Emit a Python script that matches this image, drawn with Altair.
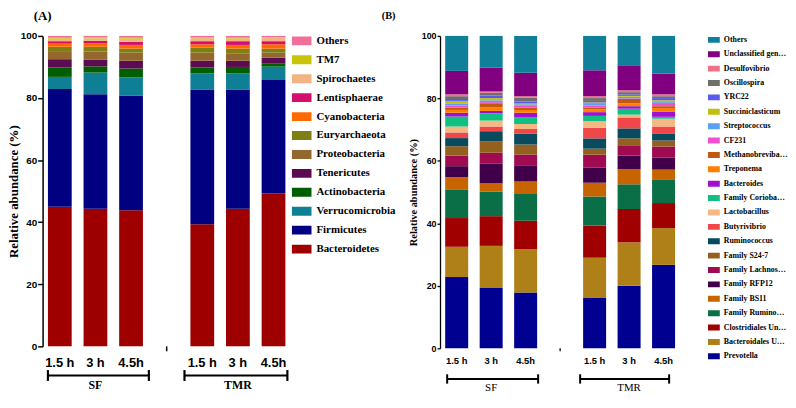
import altair as alt
import pandas as pd

# ---------------- categories (trailing spaces keep the two groups' slots distinct) ----------------
slots = ["1.5 h", "3 h", "4.5h", " ", "1.5 h ", "3 h ", "4.5h "]
samples = [s for s in slots if s != " "]
gap_slot = [" "]
y_ticks = [0, 20, 40, 60, 80, 100]

groups = ["SF", "TMR"]
group_first = ["1.5 h", "1.5 h "]
group_mid = ["3 h", "3 h "]
group_last = ["4.5h", "4.5h "]

# ---------------- panel A : phyla (bottom -> top) ----------------
phyla = ["Bacteroidetes", "Firmicutes", "Verrucomicrobia", "Actinobacteria", "Tenericutes",
         "Proteobacteria", "Euryarchaeota", "Cyanobacteria", "Lentisphaerae", "Spirochaetes",
         "TM7", "Others"]
phyla_colors = ["#9E0000", "#000080", "#0E7F94", "#005E00", "#5C0A52",
                "#94672E", "#7F7F14", "#FF6A00", "#D4106C", "#F2B482",
                "#C8C40A", "#F0709A"]
a_sf_15 = [45.0, 37.9, 3.9, 3.0, 2.7, 2.6, 1.4, 1.0, 0.8, 0.8, 0.3, 0.6]
a_sf_3 = [44.3, 36.9, 7.0, 2.0, 2.2, 2.6, 1.5, 1.1, 0.8, 0.8, 0.3, 0.5]
a_sf_45 = [43.8, 37.0, 5.8, 2.9, 2.5, 2.6, 1.3, 1.2, 1.0, 1.0, 0.3, 0.6]
a_tmr_15 = [39.3, 43.3, 5.3, 1.9, 2.2, 2.6, 1.6, 1.1, 1.0, 1.0, 0.2, 0.5]
a_tmr_3 = [44.3, 38.3, 5.3, 2.1, 2.0, 2.4, 1.5, 1.2, 1.2, 0.9, 0.2, 0.6]
a_tmr_45 = [49.2, 36.6, 4.3, 1.1, 1.8, 1.6, 1.3, 1.4, 1.0, 1.1, 0.2, 0.4]

# ---------------- panel B : genera (bottom -> top) ----------------
genera = ["Prevotella", "Bacteroidales Unclassified", "Clostridiales Unclassified",
          "Family Ruminococcaceae", "Family BS11", "Family RFP12", "Family Lachnospiraceae",
          "Family S24-7", "Ruminococcus", "Butyrivibrio", "Lactobacillus",
          "Family Coriobacteriaceae", "Bacteroides", "Treponema", "Methanobrevibacter",
          "CF231", "Streptococcus", "Succiniclasticum", "YRC22", "Oscillospira",
          "Desulfovibrio", "Unclassified genera", "Others"]
genera_colors = ["#000090", "#B08018", "#A00000", "#0A6E46", "#C86400", "#40004A", "#A00A50",
                 "#946020", "#0A4A5E", "#F04848", "#F5B882", "#10C080", "#A010D0", "#FF8000",
                 "#C05A10", "#F050D0", "#5AA0F0", "#C0C010", "#5A5AF0", "#6E6E6E",
                 "#F0708A", "#800080", "#10809A"]
b_sf_15 = [22.8, 9.7, 9.2, 9.0, 4.1, 3.5, 3.4, 3.0, 2.6, 1.8, 1.9, 3.2, 1.2, 0.9, 0.8,
           0.6, 0.7, 0.8, 0.6, 0.9, 0.6, 7.5, 11.2]
b_sf_3 = [19.3, 13.5, 9.5, 7.8, 2.7, 6.4, 3.4, 3.6, 3.3, 1.5, 1.9, 2.3, 0.8, 1.1, 1.1,
          0.6, 0.6, 0.7, 0.8, 0.9, 0.4, 7.6, 10.2]
b_sf_45 = [17.9, 13.8, 9.1, 8.6, 4.0, 5.2, 3.4, 3.2, 3.6, 1.4, 1.6, 2.1, 1.5, 0.9, 0.8,
           0.7, 0.3, 0.3, 0.6, 1.3, 0.4, 7.5, 11.8]
b_tmr_15 = [16.1, 12.9, 10.3, 9.3, 4.4, 4.8, 4.2, 1.9, 3.3, 3.4, 2.1, 1.7, 1.2, 0.9, 0.6,
            0.6, 0.8, 0.2, 0.5, 0.9, 0.6, 8.3, 11.0]
b_tmr_3 = [20.0, 13.9, 10.7, 7.9, 4.8, 4.4, 3.3, 2.2, 3.2, 3.5, 0.9, 1.9, 0.8, 0.9, 1.4,
           0.2, 0.5, 0.3, 0.5, 0.7, 0.6, 8.0, 9.4]
b_tmr_45 = [26.7, 11.8, 8.0, 7.6, 3.1, 3.8, 3.6, 1.9, 2.3, 2.2, 2.5, 0.6, 1.7, 1.1, 0.6,
            0.7, 0.6, 0.6, 0.7, 0.6, 0.6, 6.6, 12.1]

SANS = "Liberation Sans, Arial, sans-serif"
SERIF = "Liberation Serif, Times New Roman, serif"


def long_table(taxa, columns):
    rows = []
    for s, vals in zip(samples, columns):
        for i, (t, v) in enumerate(zip(taxa, vals)):
            rows.append({"slot": s, "taxon": t, "idx": i, "value": v})
    return pd.DataFrame(rows)


def panel(df, taxa, colors, c):
    W, H = c["w"], c["h"]
    xscale = alt.Scale(domain=slots, paddingInner=0.333, paddingOuter=0.15)
    xaxis = alt.Axis(title=None, labels=False, ticks=False, domainColor="black",
                     domainWidth=c["dw"], grid=False)
    yaxis = alt.Axis(
        title="Relative abundance (%)", values=y_ticks, titleFont=SERIF,
        titleFontSize=c["ytfs"], titleFontWeight="bold", titleColor="black",
        titlePadding=c["ytp"], labelFont=SANS, labelFontSize=c["yfs"],
        labelFontWeight="bold", labelColor="black", labelPadding=1,
        domainColor="black", domainWidth=c["dw"], tickColor="black",
        tickSize=c["yts"], tickWidth=c["dw"], grid=False)
    legend = alt.Legend(
        title=None, orient="none", legendX=c["lgx"], legendY=c["lgy"],
        symbolType=c["sym"], symbolSize=c["symsize"], symbolStrokeWidth=0,
        clipHeight=c["clip"], rowPadding=c["rowpad"], labelFont=SERIF,
        labelFontSize=c["lfs"], labelFontWeight="bold", labelColor="black",
        labelOffset=c["loff"], labelLimit=c["llim"], padding=0)
    bars = alt.Chart(df).mark_bar().encode(
        x=alt.X("slot:N", scale=xscale, axis=xaxis),
        y=alt.Y("value:Q", stack="zero", scale=alt.Scale(domain=[0, 100], nice=False), axis=yaxis),
        color=alt.Color("taxon:N", scale=alt.Scale(domain=taxa[::-1], range=colors[::-1]),
                        legend=legend),
        order=alt.Order("idx:Q", sort="ascending"),
    )
    layers = [bars]
    # sample labels under each bar
    lab_df = pd.DataFrame({"slot": samples, "label": [s.strip() for s in samples]})
    xlabels = alt.Chart(lab_df).mark_text(
        font=SANS, fontSize=c["xfs"], fontWeight="bold", baseline="middle", color="black").encode(
        x=alt.X("slot:N", scale=xscale, axis=None), y=alt.value(H + c["xly"]), text="label:N")
    layers.append(xlabels)
    # the single tick under the gap between the two groups
    gap_tick = alt.Chart(pd.DataFrame({"slot": gap_slot})).mark_rule(
        color="black", strokeWidth=c["dw"]).encode(
        x=alt.X("slot:N", scale=xscale, axis=None),
        y=alt.value(H), y2=alt.value(H + c["xts"]))
    layers.append(gap_tick)
    gdf = pd.DataFrame({"group": groups, "first": group_first, "mid": group_mid, "last": group_last})
    for g, (os_, oe) in zip(groups, c["offs"]):
        base = alt.Chart(gdf).transform_filter(alt.datum.group == g)
        line = base.mark_rule(color="black", strokeWidth=c["bw"], xOffset=os_, x2Offset=oe).encode(
            x=alt.X("first:N", scale=xscale, bandPosition=0, axis=None),
            x2=alt.X2("last:N", bandPosition=1),
            y=alt.value(H + c["by"]))
        cap1 = base.mark_rule(color="black", strokeWidth=c["bw"], xOffset=os_).encode(
            x=alt.X("first:N", scale=xscale, bandPosition=0, axis=None),
            y=alt.value(H + c["by"] - c["cap"]), y2=alt.value(H + c["by"] + c["cap"]))
        cap2 = base.mark_rule(color="black", strokeWidth=c["bw"], xOffset=oe).encode(
            x=alt.X("last:N", scale=xscale, bandPosition=1, axis=None),
            y=alt.value(H + c["by"] - c["cap"]), y2=alt.value(H + c["by"] + c["cap"]))
        layers += [line, cap1, cap2]
    txt = alt.Chart(gdf).mark_text(font=SERIF, fontSize=c["gfs"], fontWeight=c["gfw"],
                                   baseline="middle", color="black").encode(
        x=alt.X("mid:N", scale=xscale, axis=None),
        y=alt.value(H + c["ty"]), text="group:N")
    layers.append(txt)
    for lab, lx, ly, lfs in c["labels"]:
        lbl = alt.Chart(pd.DataFrame({"t": [lab]})).mark_text(
            font=SERIF, fontSize=lfs, fontWeight="bold", baseline="middle", align="left",
            color="black").encode(x=alt.value(lx), y=alt.value(ly), text="t:N")
        layers.append(lbl)
    return alt.layer(*layers).properties(width=W, height=H)


dfa = long_table(phyla, [a_sf_15, a_sf_3, a_sf_45, a_tmr_15, a_tmr_3, a_tmr_45])
dfb = long_table(genera, [b_sf_15, b_sf_3, b_sf_45, b_tmr_15, b_tmr_3, b_tmr_45])

cfg_a = dict(w=251, h=314, xfs=13, xly=17, xts=5, dw=1.5, ytfs=13, ytp=0, yfs=10, yts=5,
             lgx=252, lgy=-2, sym="M-1,-0.45H1V0.45H-1Z", symsize=400, clip=14, rowpad=5.15,
             lfs=11, loff=5, llim=160, offs=[(0, 6), (-6, 2)], bw=2.2, by=29.5, cap=5.5,
             gfs=12, gfw="bold", ty=39,
             labels=[("(A)", -9, -20, 13), ("(B)", 343, -20, 10.5)])
cfg_b = dict(w=243, h=316, xfs=9.5, xly=13, xts=3, dw=1.3, ytfs=10.5, ytp=3, yfs=9, yts=3,
             lgx=271, lgy=-2, sym="M-1,-0.5H1V0.5H-1Z", symsize=144, clip=12, rowpad=2.55,
             lfs=8, loff=4, llim=65, offs=[(2, 1), (-3, -6)], bw=2, by=31, cap=4.7,
             gfs=11, gfw="normal", ty=40, labels=[])

chart = alt.hconcat(panel(dfa, phyla, phyla_colors, cfg_a),
                    panel(dfb, genera, genera_colors, cfg_b),
                    spacing=11).resolve_scale(color="independent").properties(
    padding={"left": -1, "top": 0, "right": 0, "bottom": 0}
).configure_view(stroke=None)

chart.save("out.html", embed_options={"renderer": "svg", "actions": False})
